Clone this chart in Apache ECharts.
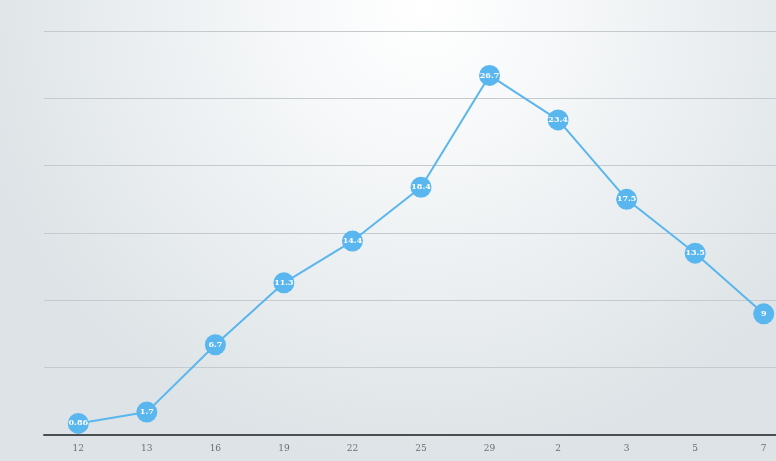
<!DOCTYPE html>
<html><head><meta charset="utf-8">
<script src="https://cdn.jsdelivr.net/npm/echarts@6/dist/echarts.min.js"></script>
<style>html,body{margin:0;padding:0;background:#fff;overflow:hidden;width:776px;height:461px}#c{width:798px;height:461px}</style>
</head><body><div id="c"></div>
<script>
var categories = ['12','13','16','19','22','25','29','2','3','5','7'];
var values = [0.86, 1.7, 6.7, 11.3, 14.4, 18.4, 26.7, 23.4, 17.5, 13.5, 9];
var yMin = 0, yMax = 30, yStep = 5;

var chart = echarts.init(document.getElementById('c'));
chart.setOption({
  animation: false,
  backgroundColor: {
    type: 'radial', x: 0.53, y: 0.02, r: 1.0,
    colorStops: [
      {offset: 0, color: '#ffffff'},
      {offset: 0.3, color: '#f6f8f9'},
      {offset: 1, color: '#dde3e6'}
    ]
  },
  grid: {left: 44, right: 0, top: 31, bottom: 26, containLabel: false},
  xAxis: {
    type: 'category', data: categories, boundaryGap: true,
    axisLine: {lineStyle: {color: '#4a4f52', width: 2}},
    axisTick: {show: false},
    axisLabel: {color: '#6a6f72', fontSize: 9, fontFamily: 'DejaVu Serif', margin: 9}
  },
  yAxis: {
    type: 'value', min: yMin, max: yMax, interval: yStep,
    axisLine: {show: false}, axisTick: {show: false},
    axisLabel: {show: false},
    splitLine: {lineStyle: {color: '#c4cacd', width: 1}}
  },
  series: [{
    type: 'line', data: values,
    symbol: 'circle', symbolSize: 21,
    lineStyle: {color: '#5ab6ee', width: 2},
    itemStyle: {color: '#5ab6ee'},
    label: {show: true, position: 'inside', color: '#ffffff', fontSize: 8, fontWeight: 'bold', fontFamily: 'DejaVu Serif'}
  }]
});
</script></body></html>
